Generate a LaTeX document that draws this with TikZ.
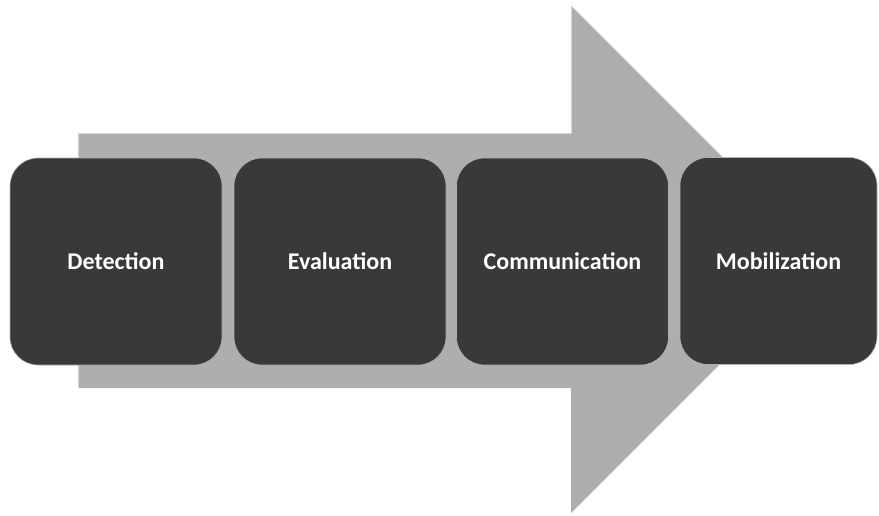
\documentclass[tikz,border=0pt]{standalone}
\usepackage{fontspec}
\setmainfont{Carlito}
\definecolor{arrowgray}{HTML}{B0ADAD}
\definecolor{boxgray}{HTML}{3A3839}
\begin{document}
\begin{tikzpicture}[x=1pt,y=-1pt,
    stage/.style={rectangle,rounded corners=28pt,fill=boxgray,draw=gray!60,line width=0.6pt,
        minimum width=212pt,minimum height=207pt,inner sep=0pt,
        text=white,font=\bfseries\fontsize{24}{28}\selectfont}]
        \useasboundingbox (0,0) rectangle (879,515);
        % big arrow
        \coordinate (A) at (78,133);
        \coordinate (B) at (571,133);
        \coordinate (C) at (571,5);
        \coordinate (D) at (825,259);
        \coordinate (E) at (571,513);
        \coordinate (F) at (571,388);
        \coordinate (G) at (78,388);
        \fill[arrowgray] (A)--(B)--(C)--(D)--(E)--(F)--(G)--cycle;
        \draw[white!80!arrowgray,line width=1pt] (G)--(A)--(B)--(C)--(D);
        % stages
        \node[stage] (det) at (116,261.5) {Detection};
        \node[stage] (eval) at (340,261.5) {Evaluation};
        \node[stage] (comm) at (562.5,261.5) {Communication};
        \node[stage,minimum width=197pt] (mob) at (778.5,261) {Mobilization};
    \end{tikzpicture}
\end{document}
